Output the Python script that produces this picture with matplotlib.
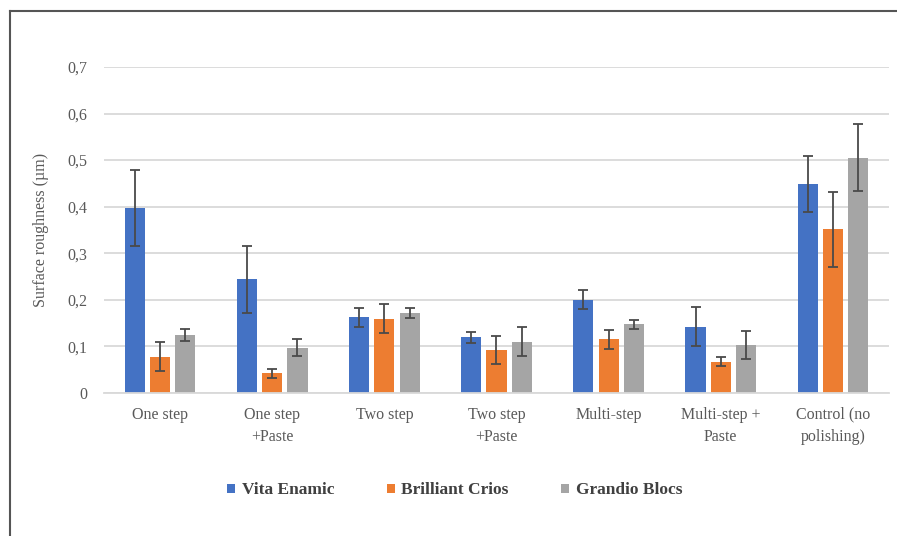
import matplotlib.pyplot as plt
from matplotlib.lines import Line2D
from matplotlib.ticker import FuncFormatter
import numpy as np

# data
categories = ["One step", "One step\n+Paste", "Two step", "Two step\n+Paste",
              "Multi-step", "Multi-step +\nPaste", "Control (no\npolishing)"]
series = ["Vita Enamic", "Brilliant Crios", "Grandio Blocs"]
vita = [0.397, 0.244, 0.162, 0.119, 0.200, 0.142, 0.449]
vita_err = [0.082, 0.072, 0.020, 0.012, 0.020, 0.042, 0.060]
crios = [0.078, 0.042, 0.159, 0.092, 0.115, 0.067, 0.351]
crios_err = [0.032, 0.010, 0.031, 0.030, 0.020, 0.010, 0.080]
grandio = [0.124, 0.097, 0.171, 0.110, 0.147, 0.102, 0.505]
grandio_err = [0.013, 0.018, 0.011, 0.031, 0.010, 0.030, 0.072]
colors = ["#4472C4", "#ED7D31", "#A5A5A5"]

plt.rcParams["font.family"] = ["Liberation Serif", "DejaVu Serif"]

fig = plt.figure(figsize=(8.97, 5.36), dpi=100)
ax = fig.add_axes([0.116, 0.267, 0.875, 0.608])

x = np.arange(len(categories))
width = 0.18
step = 0.225
for i, (vals, errs) in enumerate([(vita, vita_err), (crios, crios_err), (grandio, grandio_err)]):
    ax.bar(x + (i - 1) * step, vals, width, color=colors[i], label=series[i], zorder=2,
           yerr=errs, capsize=3.5,
           error_kw=dict(ecolor="#4a4a4a", elinewidth=1.3, capthick=1.3))

ax.set_xlim(-0.5, len(categories) - 0.5)
ax.set_ylim(0, 0.7)
ax.set_yticks(np.arange(0, 0.71, 0.1))
ax.yaxis.set_major_formatter(FuncFormatter(lambda v, p: "0" if abs(v) < 1e-9 else f"{v:.1f}".replace(".", ",")))
ax.set_xticks(x)
ax.set_xticklabels(categories, linespacing=1.5)
ax.tick_params(axis="both", length=0, labelsize=11.5, labelcolor="#595959", pad=10)
ax.tick_params(axis="y", pad=12)
ax.grid(axis="y", color="#d9d9d9", linewidth=1.3, zorder=0)
for s in ["top", "right", "left"]:
    ax.spines[s].set_visible(False)
ax.spines["bottom"].set_color("#d9d9d9")
ax.spines["bottom"].set_linewidth(1.3)
ax.set_ylabel("Surface roughness (µm)", fontsize=11.5, color="#595959", labelpad=13)

leg = fig.legend(loc="center", bbox_to_anchor=(0.507, 0.085), ncol=3, frameon=False,
                 handlelength=0.45, handleheight=0.45, handletextpad=0.4, columnspacing=3.0,
                 prop={"weight": "bold", "size": 12.5})
for t in leg.get_texts():
    t.set_color("#404040")

# outer frame lines (top and left)
fig.add_artist(Line2D([0.011, 1.0], [0.979, 0.979], color="#555555", linewidth=1.5))
fig.add_artist(Line2D([0.011, 0.011], [0.0, 0.979], color="#555555", linewidth=1.5))

fig.savefig("out.png", dpi=100)
